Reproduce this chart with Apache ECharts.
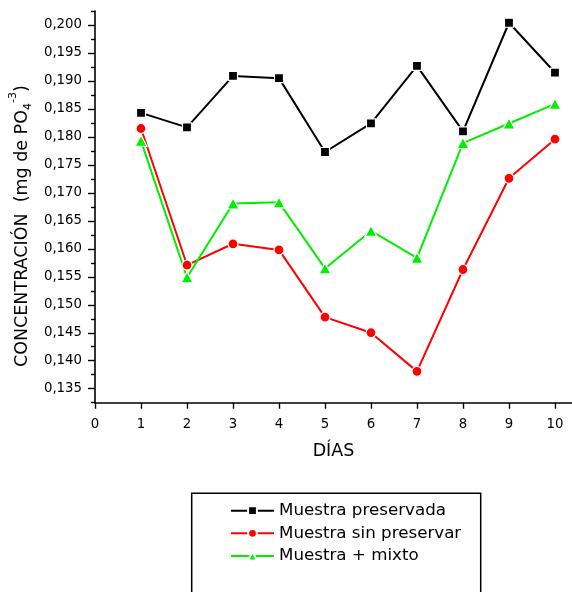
<!DOCTYPE html>
<html>
<head>
<meta charset="utf-8">
<script src="https://cdn.jsdelivr.net/npm/echarts@6/dist/echarts.min.js"></script>
<style>
  html, body { margin: 0; padding: 0; background: #fff; }
  #chart { width: 572px; height: 592px; }
</style>
</head>
<body>
<div id="chart"></div>
<script>
// Phosphate concentration per day for three sample treatments
const days = [1, 2, 3, 4, 5, 6, 7, 8, 9, 10];
const preservada = [0.1843, 0.1817, 0.1909, 0.1905, 0.1773, 0.1824, 0.1927, 0.1810, 0.2004, 0.1915];
const sinPreservar = [0.1815, 0.1571, 0.1609, 0.1598, 0.1478, 0.1450, 0.1381, 0.1563, 0.1726, 0.1796];
const mixto = [0.1793, 0.1549, 0.1681, 0.1683, 0.1565, 0.1632, 0.1584, 0.1789, 0.1824, 0.1859];

const seriesNames = ['Muestra preservada', 'Muestra sin preservar', 'Muestra + mixto'];

// Axis ticks
const xTicks = [0, 1, 2, 3, 4, 5, 6, 7, 8, 9, 10];
const yMajorTicks = [0.135, 0.140, 0.145, 0.150, 0.155, 0.160, 0.165, 0.170, 0.175, 0.180, 0.185, 0.190, 0.195, 0.200];
const yMinorTicks = [0.1325, 0.1375, 0.1425, 0.1475, 0.1525, 0.1575, 0.1625, 0.1675, 0.1725, 0.1775, 0.1825, 0.1875, 0.1925, 0.1975, 0.2025];

const FONT = 'DejaVu Sans';
const pairs = arr => days.map((d, i) => [d, arr[i]]);

const chart = echarts.init(document.getElementById('chart'), null, { renderer: 'canvas' });

function lineSeries(name, data, color, symbol, size) {
  return {
    name: name,
    type: 'line',
    data: pairs(data),
    symbol: symbol,
    symbolSize: size,
    showAllSymbol: true,
    lineStyle: { color: color, width: 2 },
    itemStyle: { color: color, borderColor: '#fff', borderWidth: 1.2 },
    emphasis: { disabled: true },
    animation: false
  };
}

chart.setOption({
  backgroundColor: '#fff',
  animation: false,
  grid: { left: 95, right: 0, top: 11, bottom: 189.3, containLabel: false },
  xAxis: {
    type: 'value',
    min: 0,
    max: 10.37,
    name: 'DÍAS',
    nameLocation: 'middle',
    nameGap: 40,
    nameTextStyle: { fontFamily: FONT, fontSize: 17.5, color: '#000' },
    axisLine: { show: true, onZero: false, lineStyle: { color: '#000', width: 1.6 } },
    axisTick: { show: true, inside: false, length: 6, customValues: xTicks, lineStyle: { color: '#000', width: 1.4 } },
    axisLabel: { customValues: xTicks, margin: 15, fontFamily: FONT, fontSize: 13.3, color: '#000',
                 formatter: v => String(v) },
    splitLine: { show: false }
  },
  yAxis: [
    {
      type: 'value',
      min: 0.1325,
      max: 0.2025,
      position: 'left',
      axisLine: { show: true, onZero: false, lineStyle: { color: '#000', width: 1.6 } },
      axisTick: { show: true, inside: false, length: 7, customValues: yMajorTicks, lineStyle: { color: '#000', width: 1.4 } },
      axisLabel: { customValues: yMajorTicks, margin: 13, fontFamily: FONT, fontSize: 13.3, color: '#000',
                   formatter: v => v.toFixed(3).replace('.', ',') },
      splitLine: { show: false }
    },
    {
      type: 'value',
      min: 0.1325,
      max: 0.2025,
      position: 'left',
      offset: 0,
      axisLine: { show: false },
      axisTick: { show: true, inside: false, length: 4, customValues: yMinorTicks, lineStyle: { color: '#000', width: 1.4 } },
      axisLabel: { show: false },
      splitLine: { show: false }
    }
  ],
  legend: {
    orient: 'vertical',
    left: 230,
    top: 499.3,
    padding: 0,
    itemGap: 0,
    itemWidth: 43,
    itemHeight: 11,
    selectedMode: false,
    textStyle: { fontFamily: FONT, fontSize: 16.7, color: '#000', lineHeight: 22.7 },
    data: seriesNames
  },
  graphic: [
    {
      type: 'rect',
      shape: { x: 191.7, y: 493.3, width: 289, height: 140 },
      style: { fill: 'none', stroke: '#000', lineWidth: 1.5 },
      silent: true
    },
    {
      type: 'text',
      x: 22,
      y: 367,
      rotation: Math.PI / 2,
      silent: true,
      style: {
        text: '{a|CONCENTRACIÓN  (mg de PO}{sub|4}{sup|-3}{a|)}',
        align: 'left',
        verticalAlign: 'middle',
        fill: '#000',
        rich: {
          a: { fontFamily: FONT, fontSize: 17.5, lineHeight: 28, verticalAlign: 'middle', fill: '#000' },
          sub: { fontFamily: FONT, fontSize: 11, lineHeight: 28, verticalAlign: 'bottom', padding: [0, 0, 2, 0], fill: '#000' },
          sup: { fontFamily: FONT, fontSize: 11, lineHeight: 28, verticalAlign: 'top', fill: '#000' }
        }
      }
    }
  ],
  series: [
    lineSeries(seriesNames[0], preservada, '#000000', 'rect', 9),
    lineSeries(seriesNames[1], sinPreservar, '#ff0000', 'circle', 10),
    lineSeries(seriesNames[2], mixto, '#00ee00', 'triangle', [12, 11])
  ]
});
</script>
</body>
</html>
